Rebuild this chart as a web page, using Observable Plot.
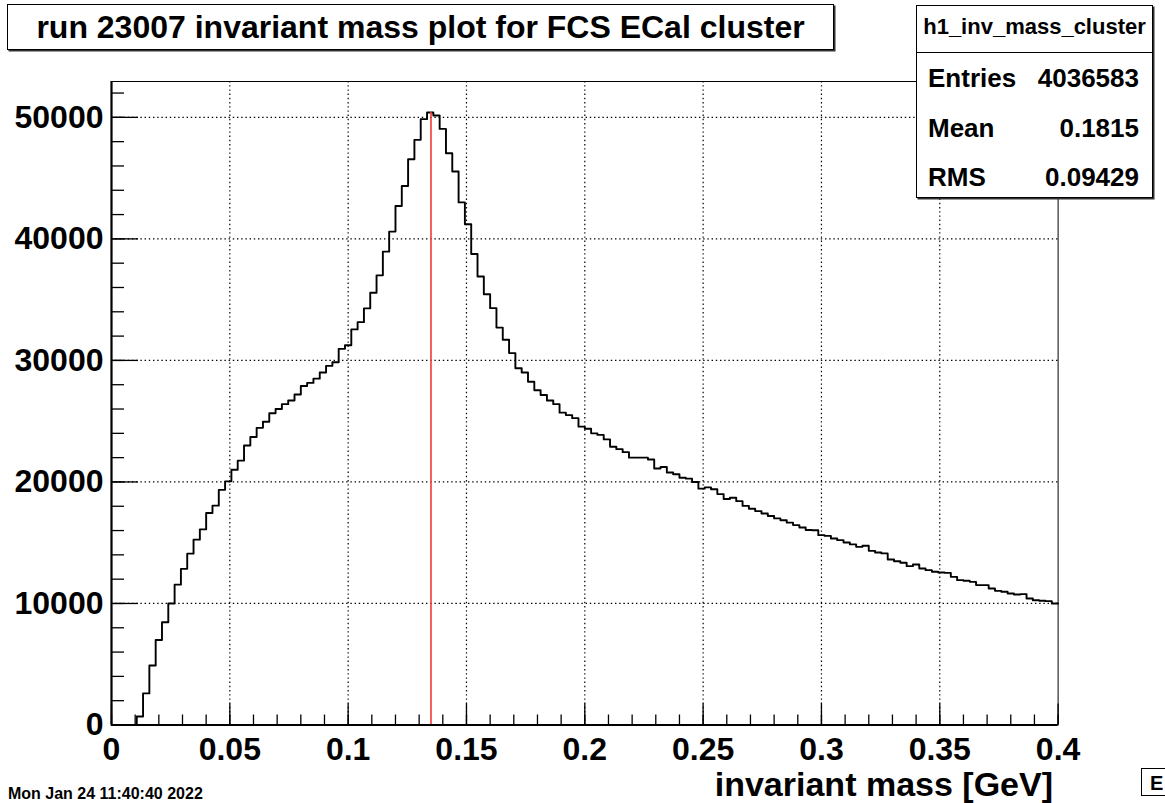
<!DOCTYPE html>
<html><head><meta charset="utf-8">
<script src="https://cdn.jsdelivr.net/npm/d3@7"></script>
<script src="https://cdn.jsdelivr.net/npm/@observablehq/plot@0.6"></script>
<style>
html,body{margin:0;padding:0;background:#fff;}
body{width:1165px;height:803px;overflow:hidden;position:relative;font-family:"Liberation Sans",Arial,Helvetica,sans-serif;font-weight:bold;color:#000;}
#chart{position:absolute;left:0;top:0;}
.box{position:absolute;background:#fff;border:1px solid #000;box-sizing:border-box;box-shadow:1.5px 1.5px 0 #333;}
.t{position:absolute;white-space:nowrap;}
</style></head><body>
<div id="chart"></div>
<div class="box" style="left:7px;top:4px;width:827px;height:46px;"></div>
<div class="t" id="title" style="left:7px;width:827px;top:10.9px;font-size:32px;line-height:32px;text-align:center;"></div>
<div class="box" style="left:916px;top:5px;width:237px;height:193px;"></div>
<div style="position:absolute;left:916px;top:52px;width:237px;height:1px;background:#000;"></div>
<div class="t" id="statName" style="left:916px;width:237px;top:16.4px;font-size:22px;line-height:22px;text-align:center;"></div>
<div id="statRows"></div>
<div class="t" id="xTitle" style="right:112px;top:768.5px;font-size:34px;line-height:30px;"></div>
<div class="t" id="date" style="left:8px;top:785.5px;font-size:16px;line-height:16px;"></div>
<div style="position:absolute;left:1141px;top:768px;width:40px;height:28px;border:1px solid #000;box-sizing:border-box;"></div>
<div class="t" id="corner" style="left:1150px;top:773px;font-size:20px;line-height:20px;"></div>
<script>
// ---- text ----
const titleText = "run 23007 invariant mass plot for FCS ECal cluster";
const histName = "h1_inv_mass_cluster";
const statLabels = ["Entries", "Mean", "RMS"];
const statValues = ["4036583", "0.1815", "0.09429"];
const xAxisTitle = "invariant mass [GeV]";
const dateText = "Mon Jan 24 11:40:40 2022";
const cornerText = "E";

// ---- histogram (150 bins over [0, 0.4]) ----
const xMin = 0, xMax = 0.4, nBins = 150;
const counts = [
  0, 0, 0, 0, 700, 2600, 4900, 7000, 8450, 10000,
  11550, 12850, 14100, 15250, 16100, 17450, 18050, 19350, 20050, 21000,
  21750, 23000, 23700, 24450, 24950, 25650, 26000, 26400, 26700, 27200,
  27900, 28150, 28500, 29000, 29550, 29850, 30950, 31250, 32550, 33150,
  34280, 35570, 37000, 38950, 40600, 42700, 44350, 46550, 48150, 49850,
  50400, 50150, 49050, 47050, 45550, 43000, 41200, 38750, 36900, 35450,
  34300, 32700, 31700, 30600, 29350, 29000, 28250, 27550, 27150, 26700,
  26400, 25700, 25500, 25250, 24550, 24380, 24000, 23870, 23500, 22900,
  22700, 22450, 22000, 22000, 22000, 21850, 21100, 21230, 20780, 20630,
  20350, 20270, 20000, 19450, 19550, 19400, 19000, 18600, 18700, 18420,
  18030, 17800, 17600, 17400, 17200, 17000, 16850, 16650, 16450, 16250,
  16050, 16020, 15620, 15560, 15350, 15210, 15020, 14860, 14660, 14750,
  14330, 14200, 14120, 13620, 13480, 13350, 13070, 13210, 12880, 12740,
  12610, 12550, 12520, 12190, 11920, 11870, 11780, 11510, 11510, 11230,
  11040, 10960, 10820, 10740, 10770, 10410, 10270, 10220, 10190, 10000
];
const markerX = 0.135;      // red vertical line (pi0 mass)
const markerTop = 50400;
const yMax = 52950;

// ---- ticks ----
const xTicks = [0, 0.05, 0.1, 0.15, 0.2, 0.25, 0.3, 0.35, 0.4];
const xTickLabels = ["0", "0.05", "0.1", "0.15", "0.2", "0.25", "0.3", "0.35", "0.4"];
const yTicks = [0, 10000, 20000, 30000, 40000, 50000];
const yTickLabels = ["0", "10000", "20000", "30000", "40000", "50000"];
const xMinorTicks = d3.range(0, 41).map(i => i / 100);
const yMinorTicks = d3.range(0, 27).map(i => i * 2000);

// ---- layout ----
const W = 1165, H = 803;
const mL = 111, mR = 107.4, mT = 81, mB = 78.5;
const frameW = W - mL - mR, frameH = H - mT - mB;

const binWidth = (xMax - xMin) / nBins;
const steps = counts.map((c, i) => ({x: xMin + i * binWidth, y: c}));
steps.push({x: xMax, y: counts[nBins - 1]});

const dotted = {stroke: "#000", strokeOpacity: 1, strokeWidth: 1.2, strokeDasharray: "1.4,2.8"};

const chart = Plot.plot({
  width: W, height: H,
  marginLeft: mL, marginRight: mR, marginTop: mT, marginBottom: mB,
  style: {fontFamily: '"Liberation Sans", Arial, Helvetica, sans-serif', fontWeight: "bold", background: "#fff", color: "#000"},
  x: {domain: [xMin, xMax]},
  y: {domain: [0, yMax]},
  marks: [
    Plot.gridX(xTicks.slice(1, -1), dotted),
    Plot.gridY(yTicks.slice(1), dotted),
    Plot.tickX(xMinorTicks, {x: d => d, insetTop: frameH - 10, stroke: "#000", strokeWidth: 1.3}),
    Plot.tickX(xTicks, {x: d => d, insetTop: frameH - 21, stroke: "#000", strokeWidth: 1.3}),
    Plot.tickY(yMinorTicks, {y: d => d, insetRight: frameW - 13, stroke: "#000", strokeWidth: 1.3}),
    Plot.tickY(yTicks, {y: d => d, insetRight: frameW - 27, stroke: "#000", strokeWidth: 1.3}),
    Plot.line(steps, {x: "x", y: "y", curve: "step-after", stroke: "#000", strokeWidth: 1.9}),
    Plot.ruleX([markerX], {y1: 0, y2: markerTop, stroke: "#ef3b36", strokeWidth: 1.6}),
    Plot.frame({stroke: "#000", strokeWidth: 1}),
    Plot.ruleX([xMin], {stroke: "#000", strokeWidth: 2.2}),
    Plot.ruleY([0], {stroke: "#000", strokeWidth: 2.2}),
    Plot.axisY(yTicks, {tickSize: 0, tickPadding: 8, fontSize: 32, label: null,
      tickFormat: d => yTickLabels[yTicks.indexOf(d)]}),
    Plot.axisX(xTicks, {tickSize: 0, tickPadding: 12, fontSize: 32, label: null,
      tickFormat: d => xTickLabels[xTicks.indexOf(d)]})
  ]
});
document.getElementById("chart").appendChild(chart);

// ---- annotations ----
document.getElementById("title").textContent = titleText;
document.getElementById("statName").textContent = histName;
document.getElementById("xTitle").textContent = xAxisTitle;
document.getElementById("date").textContent = dateText;
document.getElementById("corner").textContent = cornerText;
const rowTops = [65, 115, 164];
const rows = document.getElementById("statRows");
statLabels.forEach((lab, i) => {
  const a = document.createElement("div");
  a.className = "t";
  a.style.cssText = `left:928px;top:${rowTops[i]}px;font-size:26px;line-height:26px;`;
  a.textContent = lab;
  const b = document.createElement("div");
  b.className = "t";
  b.style.cssText = `right:26px;top:${rowTops[i]}px;font-size:26px;line-height:26px;text-align:right;`;
  b.textContent = statValues[i];
  rows.appendChild(a); rows.appendChild(b);
});
</script>
</body></html>
